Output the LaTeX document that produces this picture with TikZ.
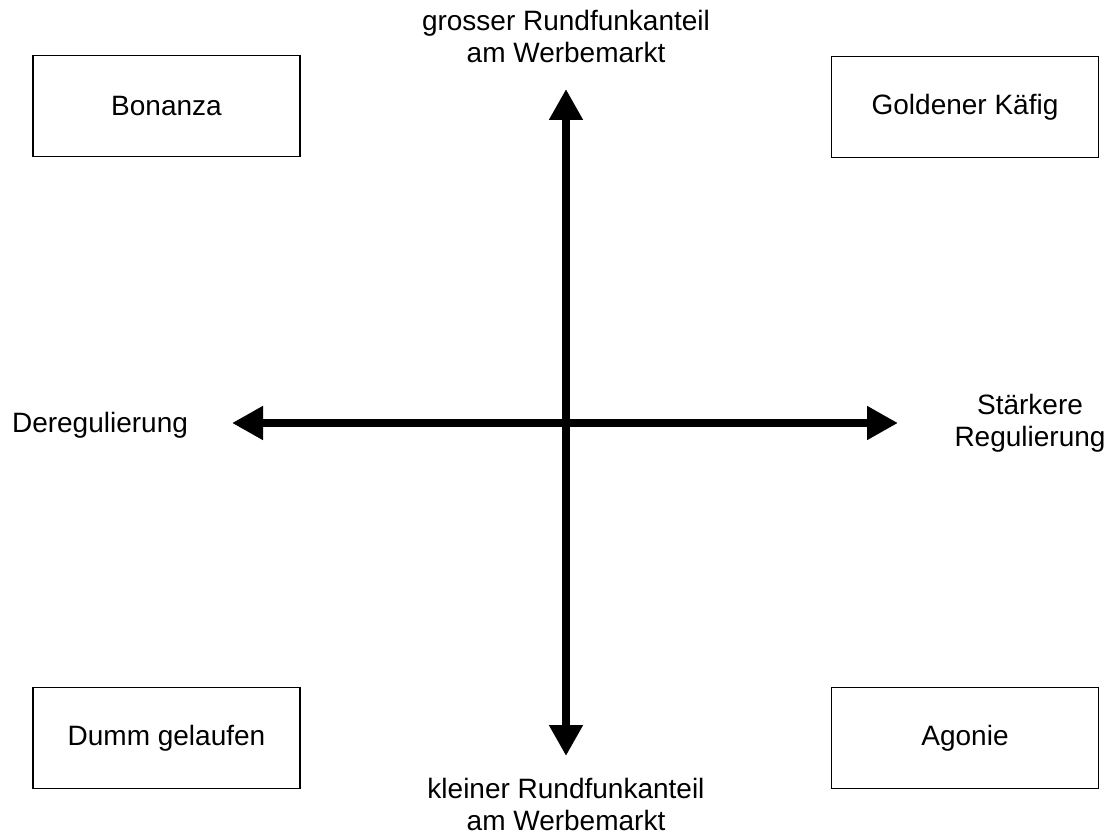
\documentclass[tikz,border=0pt]{standalone}
\usepackage{fontspec}
\setmainfont{Liberation Sans}
\usepackage{tikz}
\usetikzlibrary{positioning}
\usetikzlibrary{arrows.meta}

\tikzset{
	scenario/.style={draw, line width=1.4pt, minimum width=267pt, minimum height=101pt, inner sep=0pt, font=\fontsize{28}{32}\selectfont},
	axislabel/.style={align=center, inner sep=0pt, font=\fontsize{28}{32}\selectfont},
	axis/.style={line width=8.5pt, {Triangle[length=31pt,width=32pt]}-{Triangle[length=31pt,width=32pt]}}
}

\begin{document}
\begin{tikzpicture}[x=1pt, y=-1pt]
					\useasboundingbox (0, 0) rectangle (1117, 834);

					\coordinate (N) at (566, 89);
					\coordinate (S) at (566, 756);
					\coordinate (W) at (232, 423);
					\coordinate (E) at (898, 423);

					\node[scenario] (bonanza) at (166.5, 106) {Bonanza};
					\node[scenario] (kaefig) at (965, 107) {Goldener Käfig};
					\node[scenario] (dumm) at (166.5, 738) {Dumm gelaufen};
					\node[scenario] (agonie) at (965, 738) {Agonie};

					\node[axislabel] (gross) at (566, 36) {grosser Rundfunkanteil\\am Werbemarkt};
					\node[axislabel] (klein) at (566, 804) {kleiner Rundfunkanteil\\am Werbemarkt};
					\node[axislabel] (dereg) at (100, 425) {Deregulierung};
					\node[axislabel] (reg) at (1030, 423) {Stärkere\\Regulierung};

					\draw[axis] (S) -- (N);
					\draw[axis] (W) -- (E);
                \end{tikzpicture}
\end{document}
